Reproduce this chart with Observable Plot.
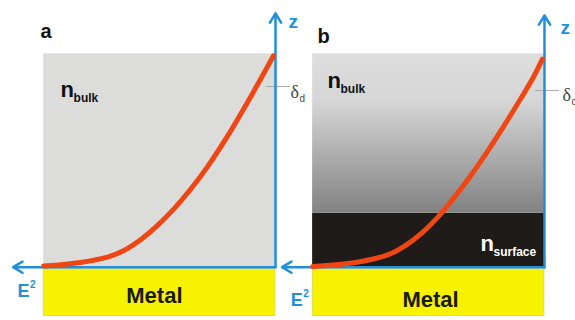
<!DOCTYPE html>
<html><head><meta charset="utf-8">
<script src="https://cdn.jsdelivr.net/npm/d3@7"></script>
<script src="https://cdn.jsdelivr.net/npm/@observablehq/plot@0.6"></script>
<style>body{margin:0;background:#fff} #chart svg{display:block}</style>
</head><body><div id="chart"></div>
<script>
// Panels
const panels = ["a", "b"];
// Field intensity E² (normalised) vs height z (normalised to dielectric thickness)
const curveA_E2 = [0.875, 0.736, 0.634, 0.574, 0.509, 0.445, 0.385, 0.321, 0.257, 0.181, 0.106, 0.057, 0.008];
const curveA_z  = [0.005, 0.022, 0.047, 0.077, 0.129, 0.196, 0.271, 0.364, 0.470, 0.614, 0.772, 0.880, 0.990];
const curveB_E2 = [0.875, 0.713, 0.589, 0.525, 0.460, 0.400, 0.336, 0.272, 0.215, 0.177, 0.091, 0.042, 0.008];
const curveB_z  = [0.003, 0.022, 0.059, 0.101, 0.163, 0.238, 0.334, 0.440, 0.543, 0.615, 0.787, 0.890, 0.975];
// Layer extents
const layerE2 = 0.875;          // lateral extent of the layers
const bulkTopZ = 1;             // top of dielectric
const surfaceTopZ = 0.253;      // top of dense surface layer (panel b)
const metalZ = [-0.23, -0.008]; // metal slab
// Axes
const axisTipZ = {a: 1.19, b: 1.18};
const axisTipE2 = {a: 0.99, b: 0.99};
const deltaZ = {a: 0.847, b: 0.828};
const deltaTickE2 = [0.035, -0.055];

const curve = [
  ...curveA_E2.map((e, i) => ({panel: "a", E2: e, z: curveA_z[i]})),
  ...curveB_E2.map((e, i) => ({panel: "b", E2: e, z: curveB_z[i]}))
];
const axes = panels.flatMap(p => [
  {panel: p, x1: 0, y1: 0, x2: 0, y2: axisTipZ[p]},
  {panel: p, x1: 0, y1: 0, x2: axisTipE2[p], y2: 0}
]);
const deltaTicks = panels.map(p => ({panel: p, x1: deltaTickE2[0], x2: deltaTickE2[1], z: deltaZ[p]}));

const panelLabels = [{panel: "a", t: "a", E2: 0.887, z: 1.072}, {panel: "b", t: "b", E2: 0.857, z: 1.053}];
const zLabels = [{panel: "a", t: "z", E2: -0.049, z: 1.119}, {panel: "b", t: "z", E2: -0.06, z: 1.095}];
const nLabels = [
  {panel: "a", t: "n", sub: "bulk", E2: 0.811, z: 0.796, c: "#111"},
  {panel: "b", t: "n", sub: "bulk", E2: 0.819, z: 0.838, c: "#111"},
  {panel: "b", t: "n", sub: "surface", E2: 0.2415, z: 0.078, c: "#fff"}
];
const metalLabels = [{panel: "a", t: "Metal", E2: 0.457, z: -0.166}, {panel: "b", t: "Metal", E2: 0.430, z: -0.189}];
const eLabels = [{panel: "a", t: "E", sup: "2", E2: 0.974, z: -0.142}, {panel: "b", t: "E", sup: "2", E2: 0.958, z: -0.18}];
const deltaLabels = [{panel: "a", t: "δ", sub: "d", E2: -0.057, z: 0.791}, {panel: "b", t: "δ", sub: "d", E2: -0.068, z: 0.78}];

const rects = [
  {panel: "a", x1: 0, x2: layerE2, y1: 0, y2: bulkTopZ, fill: "#dcdcda"},
  {panel: "b", x1: 0, x2: layerE2, y1: surfaceTopZ, y2: bulkTopZ, fill: "url(#bgrad)"},
  {panel: "b", x1: 0, x2: layerE2, y1: 0, y2: surfaceTopZ, fill: "#1e1b19"}
];
const metal = panels.map(p => ({panel: p, x1: 0, x2: layerE2, y1: metalZ[0], y2: metalZ[1]}));

const blue = "#2190dc";
const sans = "Liberation Sans, Arial, sans-serif";

const chart = Plot.plot({
  width: 575, height: 320,
  marginLeft: 10, marginRight: 31, marginTop: 0, marginBottom: 0,
  fx: {domain: panels, paddingInner: 4 / 269, paddingOuter: 0, round: false, axis: null},
  x: {domain: [0, 1], reverse: true, axis: null},
  y: {domain: [-0.25, 1.25], axis: null},
  style: {background: "white", overflow: "visible"},
  marks: [
    Plot.rect(rects.filter(d => d.fill !== "url(#bgrad)"), {fx: "panel", x1: "x1", x2: "x2", y1: "y1", y2: "y2", fill: d => d.fill}),
    Plot.rect(rects.filter(d => d.fill === "url(#bgrad)"), {fx: "panel", x1: "x1", x2: "x2", y1: "y1", y2: "y2", fill: "url(#bgrad)"}),
    Plot.rect(metal, {fx: "panel", x1: "x1", x2: "x2", y1: "y1", y2: "y2", fill: "#f7f300", stroke: "#c9c6a0", strokeWidth: 0.6}),
    Plot.link(deltaTicks, {fx: "panel", x1: "x1", x2: "x2", y1: "z", y2: "z", stroke: "#a8a8a8", strokeWidth: 1}),
    Plot.arrow(axes, {fx: "panel", x1: "x1", y1: "y1", x2: "x2", y2: "y2", stroke: blue, strokeWidth: 2.5, headLength: 6.5, headAngle: 62}),
    Plot.line(curve, {fx: "panel", x: "E2", y: "z", z: "panel", stroke: "#f04614", strokeWidth: 5, curve: "catmull-rom"}),
    Plot.text(panelLabels, {fx: "panel", x: "E2", y: "z", text: "t", textAnchor: "start", lineAnchor: "bottom", fontSize: 20, fontWeight: "bold", fontFamily: sans, fill: "#111"}),
    Plot.text(zLabels, {fx: "panel", x: "E2", y: "z", text: "t", textAnchor: "start", lineAnchor: "bottom", fontSize: 19, fontWeight: "bold", fontFamily: sans, fill: blue}),
    Plot.text(nLabels, {fx: "panel", x: "E2", y: "z", text: "t", textAnchor: "start", lineAnchor: "bottom", fontSize: 22, fontWeight: "bold", fontFamily: sans, fill: d => d.c}),
    Plot.text(nLabels, {fx: "panel", x: "E2", y: "z", text: "sub", dx: 13, dy: 5, textAnchor: "start", lineAnchor: "bottom", fontSize: 12, fontWeight: "bold", fontFamily: sans, fill: d => d.c}),
    Plot.text(metalLabels, {fx: "panel", x: "E2", y: "z", text: "t", textAnchor: "middle", lineAnchor: "bottom", fontSize: 22, fontWeight: "bold", fontFamily: sans, fill: "#1a1a1a"}),
    Plot.text(eLabels, {fx: "panel", x: "E2", y: "z", text: "t", textAnchor: "start", lineAnchor: "bottom", fontSize: 18, fontWeight: "bold", fontFamily: sans, fill: blue}),
    Plot.text(eLabels, {fx: "panel", x: "E2", y: "z", text: "sup", dx: 12.5, dy: -9, textAnchor: "start", lineAnchor: "bottom", fontSize: 10, fontWeight: "bold", fontFamily: sans, fill: blue}),
    Plot.text(deltaLabels, {fx: "panel", x: "E2", y: "z", text: "t", textAnchor: "start", lineAnchor: "bottom", fontSize: 18, fontFamily: "Liberation Serif, Times New Roman, serif", fill: "#444"}),
    Plot.text(deltaLabels, {fx: "panel", x: "E2", y: "z", text: "sub", dx: 9, dy: 4, textAnchor: "start", lineAnchor: "bottom", fontSize: 10, fontFamily: sans, fill: "#444"})
  ]
});

const defs = d3.select(chart).insert("defs", ":first-child");
const g = defs.append("linearGradient").attr("id", "bgrad").attr("x1", 0).attr("y1", 0).attr("x2", 0).attr("y2", 1);
[[0, "#dedede"], [0.3, "#d6d6d6"], [1, "#828282"]].forEach(([o, c]) => g.append("stop").attr("offset", o).attr("stop-color", c));

document.getElementById("chart").append(chart);
</script>
</body></html>
